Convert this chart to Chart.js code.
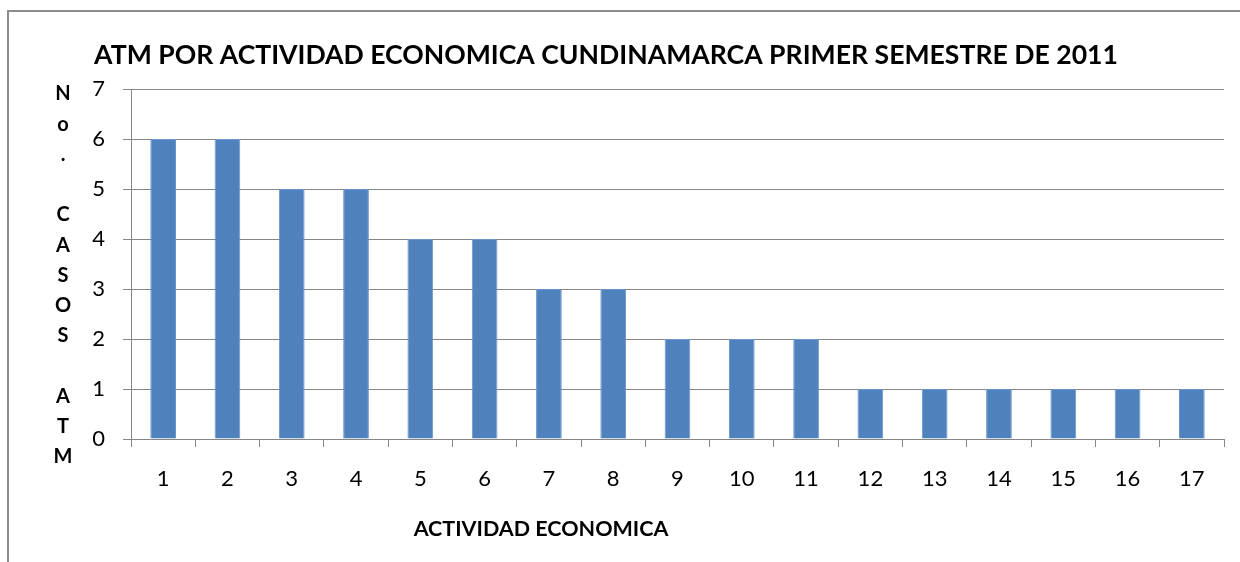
<!DOCTYPE html>
<html>
<head>
<meta charset="utf-8">
<script src="https://cdn.jsdelivr.net/npm/chart.js"></script>
<style>
  body { margin: 0; background: #fff; }
  #wrap { position: relative; width: 1240px; height: 562px; overflow: hidden; }
  #frame { position: absolute; left: 7px; top: 10px; width: 1300px; height: 700px; border: 2px solid #8c8c8c; }
  #chart { position: absolute; left: 0; top: 0; }
</style>
</head>
<body>
<div id="wrap">
  <div id="frame"></div>
  <canvas id="chart" width="1240" height="562"></canvas>
</div>
<script>
const categories = ['1', '2', '3', '4', '5', '6', '7', '8', '9', '10', '11', '12', '13', '14', '15', '16', '17'];
const casos = [6, 6, 5, 5, 4, 4, 3, 3, 2, 2, 2, 1, 1, 1, 1, 1, 1];
const yTicks = [0, 1, 2, 3, 4, 5, 6, 7];

const titleText = 'ATM POR ACTIVIDAD ECONOMICA CUNDINAMARCA PRIMER SEMESTRE DE 2011';
const xTitle = 'ACTIVIDAD ECONOMICA';
const yTitleLines = ['N', 'o', '.', '', 'C', 'A', 'S', 'O', 'S', '', 'A', 'T', 'M'];

const FONT = 'Lato, "Open Sans", sans-serif';
const gray = '#868686';

// titles are placed like in the original sheet, not centred on the plot
const textPlugin = {
  id: 'texts',
  afterDraw(chart) {
    const ctx = chart.ctx;
    ctx.save();
    ctx.fillStyle = '#000';
    ctx.textAlign = 'center';
    ctx.textBaseline = 'middle';
    ctx.font = 'bold 26.6px ' + FONT;
    ctx.fillText(titleText, 606, 55);
    ctx.font = 'bold 21.5px ' + FONT;
    ctx.fillText(xTitle, 541, 529);
    ctx.font = 'bold 20px ' + FONT;
    yTitleLines.forEach((l, i) => ctx.fillText(l, 63, 94 + i * 30.25));
    ctx.restore();
  }
};

new Chart(document.getElementById('chart'), {
  type: 'bar',
  data: {
    labels: categories,
    datasets: [{
      data: casos,
      backgroundColor: '#4F81BD',
      borderColor: '#6B95C8',
      borderWidth: 1,
      barPercentage: 0.4,
      categoryPercentage: 1
    }]
  },
  options: {
    responsive: false,
    animation: false,
    layout: { padding: { top: 89, right: 16, left: 0, bottom: 0 } },
    plugins: {
      legend: { display: false },
      tooltip: { enabled: false }
    },
    scales: {
      x: {
        afterFit: s => { s.height = 123; },
        grid: { offset: true, drawOnChartArea: false, drawTicks: true, tickLength: 8, color: gray },
        border: { color: gray, width: 1 },
        ticks: { color: '#000', padding: 19, font: { family: FONT, size: 22 } }
      },
      y: {
        min: 0,
        max: 7,
        afterFit: s => { s.width = 131; },
        afterBuildTicks: s => { s.ticks = yTicks.map(v => ({ value: v })); },
        grid: { color: gray, tickLength: 8 },
        border: { color: gray, width: 1 },
        ticks: { color: '#000', padding: 18, font: { family: FONT, size: 22 } }
      }
    }
  },
  plugins: [textPlugin]
});
</script>
</body>
</html>
